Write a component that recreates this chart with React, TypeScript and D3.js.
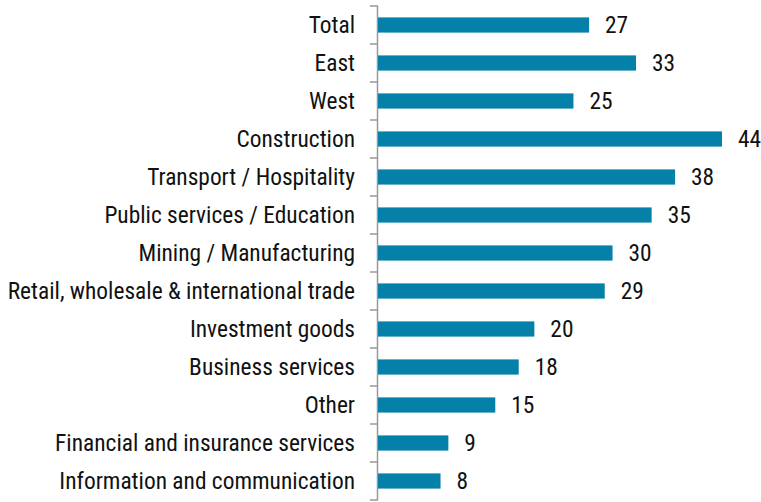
import React from "react";
import * as d3 from "d3";

const categories = [
  "Total",
  "East",
  "West",
  "Construction",
  "Transport / Hospitality",
  "Public services / Education",
  "Mining / Manufacturing",
  "Retail, wholesale & international trade",
  "Investment goods",
  "Business services",
  "Other",
  "Financial and insurance services",
  "Information and communication"
];

const values = [27, 33, 25, 44, 38, 35, 30, 29, 20, 18, 15, 9, 8];

const width = 761,
  height = 502;
const margin = { top: 6, right: 39, bottom: 2, left: 378 };
const font = "'Liberation Sans Narrow', 'Roboto Condensed', 'Arial Narrow', sans-serif";

export default function App() {
  const y = d3
    .scaleBand()
    .domain(categories)
    .range([margin.top, height - margin.bottom])
    .paddingInner(0.6)
    .paddingOuter(0.3);

  const x = d3
    .scaleLinear()
    .domain([0, 44])
    .range([margin.left, width - margin.right]);

  // boundaries between categories for the tick marks
  const rowH = (height - margin.bottom - margin.top) / categories.length;
  const bounds = d3.range(categories.length + 1).map(i => margin.top + i * rowH);

  return (
    <svg
      width={width}
      height={height}
      style={{ position: "absolute", left: 0, top: 0, background: "#fff" }}
    >
      <line
        x1={margin.left - 0.5}
        x2={margin.left - 0.5}
        y1={bounds[0]}
        y2={bounds[bounds.length - 1]}
        stroke="#999"
        strokeWidth={1.5}
      />
      {bounds.map((b, i) => (
        <line
          key={i}
          x1={margin.left - 8}
          x2={margin.left}
          y1={b}
          y2={b}
          stroke="#999"
          strokeWidth={1.5}
        />
      ))}
      {categories.map((c, i) => (
        <g key={c}>
          <rect
            x={x(0)}
            y={y(c)}
            width={x(values[i]) - x(0)}
            height={y.bandwidth()}
            fill="#0581a9"
          />
          <text
            x={355}
            y={y(c)! + y.bandwidth() / 2}
            dy="0.35em"
            textAnchor="end"
            fontFamily={font}
            fontSize={23.4}
            fill="#111"
          >
            {c}
          </text>
          <text
            x={x(values[i]) + 16}
            y={y(c)! + y.bandwidth() / 2}
            dy="0.35em"
            textAnchor="start"
            fontFamily={font}
            fontSize={23.4}
            fill="#111"
          >
            {values[i]}
          </text>
        </g>
      ))}
    </svg>
  );
}
